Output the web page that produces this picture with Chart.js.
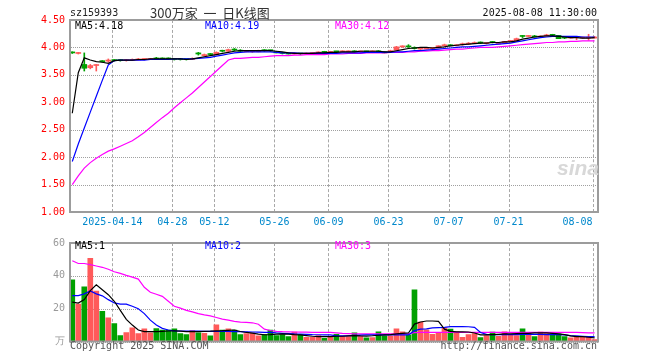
<!DOCTYPE html>
<html>
<head>
<meta charset="utf-8">
<script src="https://cdn.jsdelivr.net/npm/chart.js@4.4.1/dist/chart.umd.min.js"></script>
<style>
body { margin: 0; background: #fff; }
#wrap { position: relative; width: 660px; height: 360px; overflow: hidden; font-family: "DejaVu Sans Mono", monospace; font-size: 10px; background: #fff; }
#grid { position: absolute; left: 0; top: 0; width: 660px; height: 360px; z-index: 0; }
#wrap canvas { position: absolute; left: 0; z-index: 1; }
.t { position: absolute; white-space: nowrap; line-height: 12px; z-index: 2; }
.gv { position: absolute; width: 0; border-left: 1px dashed #a8a8a8; }
.gh { position: absolute; height: 0; border-top: 1px dotted #a0a0a0; }
</style>
</head>
<body>
<div id="wrap">
  <div id="grid"></div>
  <canvas id="kline" width="660" height="232" style="top:0"></canvas>
  <canvas id="vol" width="660" height="128" style="top:232px"></canvas>

  <div class="t" style="left:70px;top:7px;color:#222">sz159393</div>
  <div class="t" style="left:150px;top:5px;line-height:16px;font-family:'Noto Sans CJK SC';font-size:13px;color:#333">300万家&nbsp;&nbsp;一&nbsp;&nbsp;日K线图</div>
  <div class="t" id="stamp" style="right:63px;top:7px;color:#111"></div>

  <div class="t" id="lab5" style="left:75px;top:20px;color:#000"></div>
  <div class="t" id="lab10" style="left:205px;top:20px;color:#00f"></div>
  <div class="t" id="lab30" style="left:335px;top:20px;color:#f0f"></div>

  <div class="t" style="left:75px;top:240px;color:#000">MA5:1</div>
  <div class="t" style="left:205px;top:240px;color:#00f">MA10:2</div>
  <div class="t" style="left:335px;top:240px;color:#f0f">MA30:3</div>

  <div class="t" style="left:557px;top:156px;font:italic bold 21px 'Liberation Sans';line-height:24px;color:#d8d8d8">sina</div>

  <div class="t" style="left:70px;top:340px;color:#555">Copyright 2025 SINA.COM</div>
  <div class="t" style="right:63px;top:340px;color:#555">http://finance.sina.com.cn</div>
</div>

<script>
// 交易日
const dates = [
  "2025-04-02","2025-04-03","2025-04-07","2025-04-08","2025-04-09","2025-04-10","2025-04-11",
  "2025-04-14","2025-04-15","2025-04-16","2025-04-17","2025-04-18","2025-04-21","2025-04-22",
  "2025-04-23","2025-04-24","2025-04-25","2025-04-28","2025-04-29","2025-04-30","2025-05-06",
  "2025-05-07","2025-05-08","2025-05-09","2025-05-12","2025-05-13","2025-05-14","2025-05-15",
  "2025-05-16","2025-05-19","2025-05-20","2025-05-21","2025-05-22","2025-05-23","2025-05-26",
  "2025-05-27","2025-05-28","2025-05-29","2025-05-30","2025-06-03","2025-06-04","2025-06-05",
  "2025-06-06","2025-06-09","2025-06-10","2025-06-11","2025-06-12","2025-06-13","2025-06-16",
  "2025-06-17","2025-06-18","2025-06-19","2025-06-20","2025-06-23","2025-06-24","2025-06-25",
  "2025-06-26","2025-06-27","2025-06-30","2025-07-01","2025-07-02","2025-07-03","2025-07-04",
  "2025-07-07","2025-07-08","2025-07-09","2025-07-10","2025-07-11","2025-07-14","2025-07-15",
  "2025-07-16","2025-07-17","2025-07-18","2025-07-21","2025-07-22","2025-07-23","2025-07-24",
  "2025-07-25","2025-07-28","2025-07-29","2025-07-30","2025-07-31","2025-08-01","2025-08-04",
  "2025-08-05","2025-08-06","2025-08-07","2025-08-08"
];
const tickDates = ["2025-04-14","2025-04-28","2025-05-12","2025-05-26","2025-06-09","2025-06-23","2025-07-07","2025-07-21","2025-08-08"];
const tickLabels = ["2025-04-14","04-28","05-12","05-26","06-09","06-23","07-07","07-21","08-08"];

const open = [
  3.91,3.89,3.69,3.63,3.67,3.75,3.75,3.77,3.77,3.76,3.76,3.77,3.78,3.78,3.80,3.80,3.80,3.79,3.79,3.79,
  3.78,3.90,3.85,3.88,3.87,3.94,3.93,3.97,3.95,3.92,3.92,3.92,3.95,3.95,3.92,3.90,3.90,3.88,3.89,3.88,
  3.89,3.90,3.92,3.91,3.93,3.92,3.92,3.93,3.92,3.93,3.92,3.93,3.92,3.91,3.95,4.01,4.02,4.00,3.97,3.97,
  3.98,3.99,4.03,4.04,4.03,4.05,4.06,4.07,4.09,4.07,4.10,4.06,4.08,4.11,4.12,4.21,4.20,4.21,4.19,4.21,
  4.23,4.22,4.18,4.17,4.18,4.17,4.17,4.17
];
const close = [
  3.90,3.90,3.62,3.67,3.68,3.74,3.77,3.76,3.76,3.77,3.78,3.79,3.79,3.79,3.79,3.79,3.79,3.78,3.78,3.78,
  3.80,3.88,3.87,3.87,3.91,3.93,3.96,3.95,3.93,3.93,3.93,3.94,3.94,3.94,3.90,3.89,3.88,3.89,3.88,3.89,
  3.90,3.91,3.91,3.92,3.92,3.93,3.93,3.92,3.93,3.92,3.93,3.92,3.90,3.94,4.01,4.02,4.01,3.98,3.98,3.99,
  3.99,4.03,4.04,4.03,4.04,4.06,4.07,4.08,4.08,4.08,4.09,4.08,4.11,4.12,4.16,4.20,4.21,4.19,4.20,4.22,
  4.22,4.16,4.17,4.18,4.18,4.18,4.18,4.19
];
const high = [
  3.92,3.91,3.90,3.69,3.69,3.76,3.79,3.78,3.77,3.78,3.79,3.80,3.80,3.80,3.82,3.81,3.81,3.80,3.80,3.79,
  3.81,3.91,3.88,3.89,3.92,3.95,3.97,3.98,3.96,3.94,3.94,3.95,3.96,3.95,3.93,3.91,3.90,3.90,3.89,3.90,
  3.91,3.92,3.93,3.93,3.93,3.94,3.93,3.94,3.93,3.93,3.93,3.94,3.92,3.95,4.02,4.03,4.05,4.01,3.99,4.00,
  4.00,4.03,4.06,4.05,4.05,4.08,4.09,4.10,4.10,4.08,4.11,4.09,4.11,4.13,4.17,4.22,4.22,4.22,4.21,4.24,
  4.24,4.22,4.19,4.18,4.19,4.19,4.24,4.20
];
const low = [
  3.89,3.88,3.57,3.61,3.57,3.73,3.73,3.75,3.75,3.75,3.76,3.77,3.77,3.78,3.78,3.78,3.78,3.77,3.77,3.77,
  3.78,3.86,3.84,3.86,3.87,3.92,3.93,3.94,3.92,3.92,3.91,3.92,3.93,3.93,3.90,3.88,3.88,3.88,3.87,3.88,
  3.89,3.90,3.90,3.91,3.91,3.92,3.92,3.92,3.91,3.91,3.92,3.91,3.90,3.91,3.95,4.00,4.00,3.97,3.96,3.97,
  3.98,3.99,4.02,4.03,4.03,4.04,4.05,4.07,4.07,4.06,4.08,4.06,4.08,4.11,4.12,4.18,4.20,4.19,4.19,4.21,
  4.21,4.16,4.16,4.17,4.14,4.17,4.13,4.17
];
const ma5 = [
  2.80,3.54,3.81,3.77,3.74,3.73,3.71,3.76,3.77,3.77,3.77,3.78,3.78,3.79,3.79,3.79,3.79,3.79,3.79,3.78,
  3.79,3.81,3.83,3.85,3.87,3.89,3.91,3.93,3.94,3.94,3.94,3.94,3.94,3.94,3.93,3.92,3.90,3.89,3.89,3.89,
  3.89,3.90,3.90,3.91,3.91,3.92,3.92,3.92,3.93,3.93,3.93,3.93,3.92,3.92,3.94,3.96,3.98,3.99,4.00,4.00,
  3.99,4.00,4.01,4.03,4.04,4.05,4.06,4.07,4.08,4.08,4.09,4.09,4.10,4.10,4.12,4.15,4.17,4.19,4.20,4.21,
  4.21,4.20,4.19,4.18,4.18,4.17,4.17,4.18
];
const ma10 = [
  1.92,2.24,2.53,2.82,3.11,3.40,3.68,3.76,3.77,3.77,3.77,3.77,3.77,3.78,3.78,3.78,3.78,3.79,3.79,3.79,
  3.79,3.80,3.81,3.82,3.84,3.86,3.88,3.90,3.91,3.92,3.92,3.92,3.92,3.92,3.91,3.90,3.90,3.90,3.89,3.89,
  3.89,3.89,3.89,3.89,3.89,3.90,3.90,3.90,3.90,3.91,3.91,3.91,3.91,3.91,3.92,3.92,3.93,3.94,3.94,3.95,
  3.96,3.97,3.98,3.99,4.00,4.01,4.01,4.02,4.03,4.04,4.05,4.06,4.07,4.08,4.10,4.12,4.14,4.16,4.18,4.19,
  4.20,4.20,4.20,4.20,4.20,4.19,4.19,4.19
];
const ma30 = [
  1.50,1.66,1.80,1.90,1.98,2.05,2.11,2.15,2.20,2.25,2.30,2.37,2.45,2.54,2.63,2.72,2.80,2.90,2.99,3.08,
  3.17,3.27,3.37,3.47,3.57,3.67,3.77,3.80,3.80,3.81,3.82,3.82,3.83,3.84,3.85,3.85,3.85,3.86,3.86,3.87,
  3.87,3.87,3.87,3.88,3.88,3.88,3.89,3.89,3.89,3.90,3.90,3.90,3.90,3.91,3.91,3.91,3.92,3.92,3.93,3.93,
  3.94,3.94,3.95,3.96,3.97,3.97,3.98,3.99,4.00,4.00,4.00,4.01,4.02,4.03,4.04,4.05,4.06,4.07,4.08,4.09,
  4.09,4.10,4.10,4.11,4.11,4.12,4.12,4.12
];

// 成交量（万）
const volume = [
  37.6,22.8,33.3,50.7,30.7,18.4,14.4,10.9,3.6,5.5,8.3,4.9,7.7,5.3,7.9,6.9,6.9,7.7,4.8,4.2,
  6.7,5.3,5.0,3.4,10.1,7.0,7.7,7.0,4.2,4.8,5.2,3.4,4.2,6.9,3.6,4.2,3.0,5.7,4.2,2.6,
  2.6,3.6,2.0,2.6,4.4,3.0,3.0,5.3,3.0,2.2,2.4,5.9,3.4,3.4,7.7,5.9,4.0,31.5,11.9,7.1,
  4.4,5.3,8.3,7.5,5.9,2.6,4.2,4.8,2.4,3.6,5.7,3.2,5.9,3.8,3.6,7.7,4.9,3.0,5.7,4.8,
  4.6,4.6,3.0,2.2,3.0,2.6,2.6,1.2
];
const vma5 = [
  24.0,23.4,25.5,31.0,34.5,31.5,28.5,24.5,19.0,13.5,10.0,7.0,6.0,6.0,6.0,6.2,6.4,6.5,6.3,6.0,
  6.0,6.0,6.2,6.3,6.5,6.6,6.8,7.0,6.1,5.5,5.1,4.5,4.1,4.2,4.5,4.6,4.5,4.2,4.0,3.6,
  3.2,3.0,3.0,3.0,3.2,3.2,3.4,3.6,3.4,3.3,3.5,3.8,4.0,4.2,4.6,5.0,5.2,10.6,11.9,12.5,
  12.5,12.3,7.5,6.2,5.9,5.9,5.8,5.2,4.0,4.0,4.2,4.4,4.6,4.6,4.8,4.9,5.0,5.2,5.2,5.2,
  5.0,4.6,4.2,3.4,3.0,3.0,2.6,2.2
];
const vma10 = [
  27.9,27.9,29.0,30.8,29.0,27.8,25.5,23.5,22.8,22.8,21.5,20.0,17.0,13.0,10.0,8.0,7.0,6.5,6.4,6.4,
  6.3,6.3,6.2,6.2,6.1,6.1,6.1,6.0,6.0,5.9,5.8,5.7,5.6,5.5,5.2,5.0,4.8,4.6,4.5,4.4,
  4.2,4.1,4.0,4.0,3.4,3.4,3.5,3.8,3.9,4.0,4.0,4.0,4.0,4.0,4.0,4.0,4.0,6.6,7.5,7.7,
  8.3,8.5,8.6,9.1,9.1,9.1,9.0,8.6,5.5,4.3,4.2,4.2,4.2,4.2,4.2,4.3,4.4,4.4,4.3,4.2,
  4.2,4.2,4.0,3.6,3.4,3.2,3.0,3.0
];
const vma30 = [
  49.2,47.5,47.5,46.8,46.0,45.2,44.0,42.5,41.5,40.3,39.2,38.0,33.0,30.0,28.8,27.5,24.5,21.5,20.3,19.0,
  18.0,17.0,16.2,15.6,14.6,13.6,13.0,12.3,11.8,11.6,11.4,10.5,7.5,6.7,6.2,6.0,5.9,5.8,5.7,5.7,
  5.6,5.6,5.5,5.5,5.2,4.9,4.8,4.7,4.6,4.6,4.6,4.6,4.6,4.6,4.7,4.7,4.7,5.4,5.5,5.5,
  5.5,5.5,5.6,5.6,5.6,5.6,5.6,5.6,5.6,5.6,5.6,5.6,5.6,5.6,5.6,5.6,5.6,5.6,5.6,5.6,
  5.6,5.6,5.6,5.6,5.5,5.4,5.3,5.2
];

const UP = "#ff5a5a";
const DOWN = "#00a000";
const FRAME = "#9c9c9c";

Chart.defaults.font.family = "'DejaVu Sans Mono', monospace";
Chart.defaults.font.size = 10;
Chart.defaults.animation = false;

const n = dates.length;
const idx = dates.map((d, i) => i);
const colors = idx.map(i => close[i] >= open[i] ? UP : DOWN);
const pts = arr => arr.map((v, i) => ({ x: i, y: v }));

document.getElementById("stamp").textContent = "2025-08-08 11:30:00";
document.getElementById("lab5").textContent = "MA5:" + ma5[n - 1].toFixed(2);
document.getElementById("lab10").textContent = "MA10:" + ma10[n - 1].toFixed(2);
document.getElementById("lab30").textContent = "MA30:" + ma30[n - 1].toFixed(2);

// gray frame round each plot
const frame = {
  id: "frame",
  afterDraw(chart) {
    const a = chart.chartArea, ctx = chart.ctx;
    ctx.save();
    ctx.strokeStyle = FRAME;
    ctx.lineWidth = 2;
    ctx.strokeRect(a.left, a.top, a.right - a.left, a.bottom - a.top);
    ctx.restore();
  }
};

// grid lines as page elements behind the canvas, placed from the chart's scales
function addGrid(chart, offsetTop) {
  const g = document.getElementById("grid");
  const a = chart.chartArea;
  const xs = chart.scales.x, ys = chart.scales.y;
  ys.ticks.forEach(t => {
    const y = Math.round(ys.getPixelForValue(t.value));
    const d = document.createElement("div");
    d.className = "gh";
    d.style.left = Math.round(a.left) + "px";
    d.style.width = Math.round(a.right - a.left) + "px";
    d.style.top = (offsetTop + y) + "px";
    g.appendChild(d);
  });
  xs.ticks.slice(1).forEach(t => {
    const x = Math.round(xs.getPixelForValue(t.value));
    const d = document.createElement("div");
    d.className = "gv";
    d.style.left = x + "px";
    d.style.top = (offsetTop + Math.round(a.top)) + "px";
    d.style.height = Math.round(a.bottom - a.top) + "px";
    g.appendChild(d);
  });
}

function xAxis(showLabels, h) {
  return {
    type: "linear",
    min: -0.38,
    max: 87.57,
    offset: false,
    afterBuildTicks: s => {
      s.ticks = [{ value: s.min }].concat(tickDates.map(d => ({ value: dates.indexOf(d) - 0.33 })));
    },
    ticks: {
      display: showLabels,
      autoSkip: false,
      maxRotation: 0,
      align: "inner",
      padding: 4,
      color: "#0088cc",
      callback: (v, i) => i === 0 ? "" : tickLabels[i - 1]
    },
    grid: { display: false, offset: false, drawTicks: false },
    border: { display: false },
    afterFit: s => { s.height = h; }
  };
}

const line = (data, color) => ({
  type: "line",
  data: pts(data),
  borderColor: color,
  borderWidth: 1.2,
  pointRadius: 0,
  tension: 0,
  fill: false
});

const kChart = new Chart(document.getElementById("kline"), {
  type: "bar",
  data: {
    datasets: [
      line(ma5, "#000000"),
      line(ma10, "#0000ff"),
      line(ma30, "#ff00ff"),
      {
        data: idx.map(i => ({ x: i, y: [open[i], close[i]] })),
        backgroundColor: colors,
        barThickness: 5,
        minBarLength: 1,
        grouped: false
      },
      {
        data: idx.map(i => ({ x: i, y: [low[i], high[i]] })),
        backgroundColor: colors,
        barThickness: 1,
        minBarLength: 1,
        grouped: false
      }
    ]
  },
  options: {
    responsive: false,
    devicePixelRatio: 1,
    layout: { padding: { top: 20, right: 62, left: 0, bottom: 0 } },
    plugins: { legend: { display: false }, tooltip: { enabled: false } },
    scales: {
      x: xAxis(true, 20),
      y: {
        min: 1,
        max: 4.5,
        ticks: { stepSize: 0.5, color: "#ff0000", padding: 5, callback: v => Number(v).toFixed(2) },
        grid: { display: false, drawTicks: false },
        border: { display: false },
        afterFit: s => { s.width = 70; }
      }
    }
  },
  plugins: [frame]
});

const vChart = new Chart(document.getElementById("vol"), {
  type: "bar",
  data: {
    datasets: [
      line(vma5, "#000000"),
      line(vma10, "#0000ff"),
      line(vma30, "#ff00ff"),
      {
        data: pts(volume),
        backgroundColor: colors,
        barThickness: 5,
        grouped: false
      }
    ]
  },
  options: {
    responsive: false,
    devicePixelRatio: 1,
    layout: { padding: { top: 8, right: 62, left: 0, bottom: 0 } },
    plugins: { legend: { display: false }, tooltip: { enabled: false } },
    scales: {
      x: xAxis(false, 18.5),
      y: {
        min: 0,
        max: 60,
        ticks: { stepSize: 20, color: "#999999", padding: 5, callback: v => v === 0 ? "万" : v },
        grid: { display: false, drawTicks: false },
        border: { display: false },
        afterFit: s => { s.width = 70; }
      }
    }
  },
  plugins: [frame]
});

addGrid(kChart, 0);
addGrid(vChart, 232);
</script>
</body>
</html>
